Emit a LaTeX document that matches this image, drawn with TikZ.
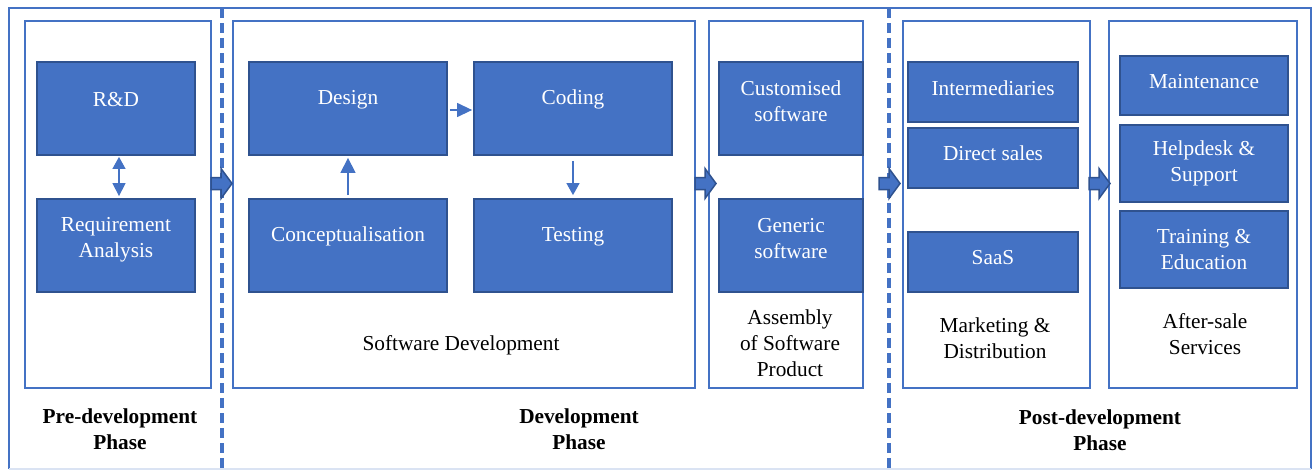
\documentclass[tikz,border=0pt]{standalone}
\usepackage{fontspec}
\setmainfont{Liberation Serif}
\usetikzlibrary{arrows.meta}
\definecolor{obl}{HTML}{4472C4}
\definecolor{dbl}{HTML}{2F528F}
\definecolor{lbl}{HTML}{DAE3F3}
\tikzset{
  x=1pt, y=-1pt,
  panel/.style={draw=obl, line width=2pt},
  box/.style={draw=dbl, fill=obl, line width=1.8pt, inner sep=0pt},
  boxtext/.style={text=white, font=\fontsize{21.3}{26}\selectfont, align=center, inner sep=0pt},
  plain/.style={font=\fontsize{21.3}{26}\selectfont, align=center, inner sep=0pt},
  phase/.style={font=\fontsize{21.3}{26}\selectfont\bfseries, align=center, inner sep=0pt},
  divider/.style={draw=obl, line width=3.5pt, dash pattern=on 10pt off 5pt},
  blk/.style={fill=obl, draw=dbl, line width=1.5pt, line join=miter},
  thin/.style={draw=obl, line width=1.3pt},
}
\newcommand{\blkarrow}[2]{%
  \path[blk] (#1,#2-6) -- (#1+10,#2-6) -- (#1+10,#2-15) -- (#1+21,#2) -- (#1+10,#2+15) -- (#1+10,#2+6) -- (#1,#2+6) -- cycle;}
\begin{document}
\begin{tikzpicture}
\useasboundingbox (0,0) rectangle (1313,471);
% outer frame
\draw[draw=obl, line width=2pt] (9,469) -- (9,8) -- (1311,8) -- (1311,469);
\draw[draw=lbl, line width=2pt] (9,469) -- (1311,469);
% dividers
\draw[divider] (222,8) -- (222,468);
\draw[divider] (889,8) -- (889,468);
% panels
\draw[panel] (25,21) rectangle (211,388);
\draw[panel] (233,21) rectangle (695,388);
\draw[panel] (709,21) rectangle (863,388);
\draw[panel] (903,21) rectangle (1090,388);
\draw[panel] (1109,21) rectangle (1297,388);
% boxes
\node[box, minimum width=158, minimum height=93, label={[boxtext, yshift=9]center:R\&D}] (rd) at (116,108.5) {};
\node[box, minimum width=158, minimum height=93, label={[boxtext, yshift=6]center:Requirement\\Analysis}] (req) at (116,245.5) {};
\node[box, minimum width=198, minimum height=93, label={[boxtext, yshift=9]center:Design}] (design) at (348,108.5) {};
\node[box, minimum width=198, minimum height=93, label={[boxtext, yshift=9]center:Coding}] (coding) at (573,108.5) {};
\node[box, minimum width=198, minimum height=93, label={[boxtext, yshift=9]center:Conceptualisation}] (concept) at (348,245.5) {};
\node[box, minimum width=198, minimum height=93, label={[boxtext, yshift=9]center:Testing}] (testing) at (573,245.5) {};
\node[box, minimum width=144, minimum height=93, label={[boxtext, yshift=7.5]center:Customised\\software}] (custom) at (791,108.5) {};
\node[box, minimum width=144, minimum height=93, label={[boxtext, yshift=6.5]center:Generic\\software}] (generic) at (791,245.5) {};
\node[box, minimum width=170, minimum height=60, label={[boxtext, yshift=3.5]center:Intermediaries}] (inter) at (993,92) {};
\node[box, minimum width=170, minimum height=60, label={[boxtext, yshift=4.5]center:Direct sales}] (direct) at (993,158) {};
\node[box, minimum width=170, minimum height=60, label={[boxtext, yshift=4.5]center:SaaS}] (saas) at (993,262) {};
\node[box, minimum width=168, minimum height=59, label={[boxtext, yshift=3.5]center:Maintenance}] (maint) at (1204,85.5) {};
\node[box, minimum width=168, minimum height=77, label={[boxtext, yshift=0.5]center:Helpdesk \&\\Support}] (help) at (1204,163.5) {};
\node[box, minimum width=168, minimum height=77, label={[boxtext, yshift=0]center:Training \&\\Education}] (train) at (1204,249.5) {};
% small connectors
\draw[thin, {Triangle[length=12pt,width=13pt]}-{Triangle[length=13pt,width=13pt]}, shorten <=1pt, shorten >=2pt] (rd.south -| 119,0) -- (req.north -| 119,0);
\draw[thin, -{Triangle[length=15pt,width=14pt]}, shorten >=1pt, shorten <=2pt] (design.east |- 0,110) -- (coding.west |- 0,110);
\draw[thin, -{Triangle[length=15pt,width=15pt]}, shorten >=2pt, shorten <=3pt] (concept.north) -- (design.south);
\draw[thin, -{Triangle[length=12pt,width=13pt]}, shorten >=3pt, shorten <=5pt] (coding.south) -- (testing.north);
% block arrows
\blkarrow{211}{183.5}
\blkarrow{695}{183.5}
\blkarrow{879}{183.5}
\blkarrow{1089}{183.5}
% labels
\node[plain] (swdev) at (461,345) {Software Development};
\node[plain] (asm) at (790,343) {Assembly\\of Software\\Product};
\node[plain] (mkt) at (995,338) {Marketing \&\\Distribution};
\node[plain] (aft) at (1205,334) {After-sale\\Services};
\node[phase] (pre) at (120,429) {Pre-development\\Phase};
\node[phase] (dev) at (579,429) {Development\\Phase};
\node[phase] (post) at (1100,430) {Post-development\\Phase};
\end{tikzpicture}
\end{document}
